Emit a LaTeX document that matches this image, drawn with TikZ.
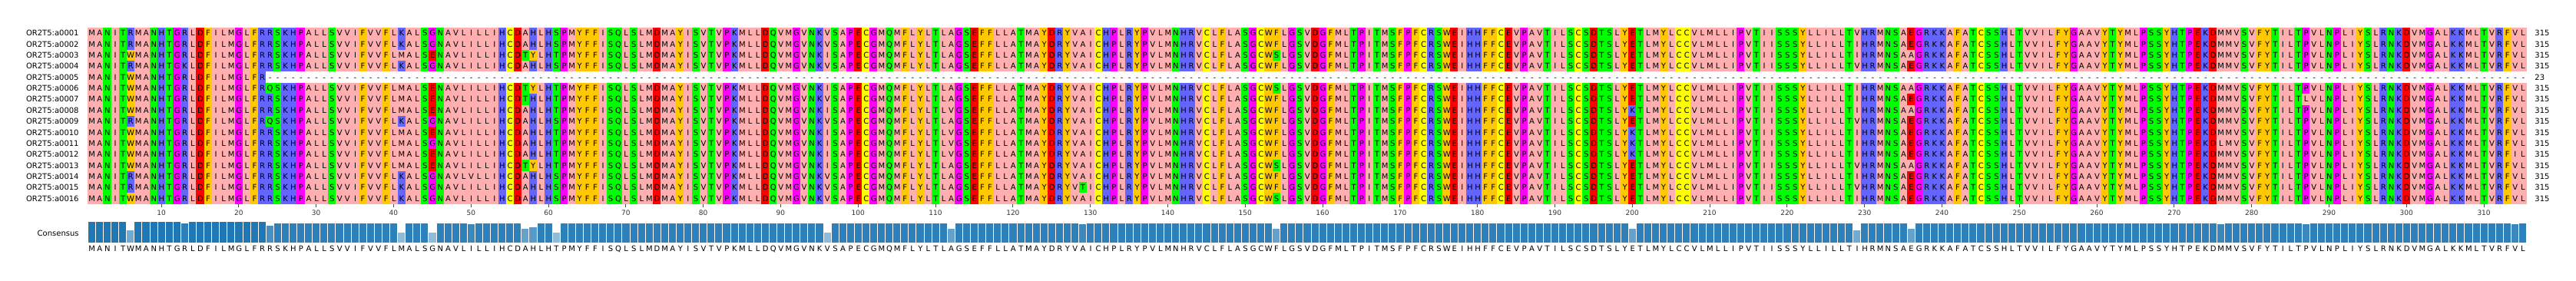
\documentclass[tikz,border=0pt]{standalone}
\usepackage{fontspec}
\setmainfont{DejaVu Sans}

\definecolor{zpA}{HTML}{FFAFAF}
\definecolor{zpI}{HTML}{FFAFAF}
\definecolor{zpL}{HTML}{FFAFAF}
\definecolor{zpM}{HTML}{FFAFAF}
\definecolor{zpV}{HTML}{FFAFAF}
\definecolor{zpF}{HTML}{FFC800}
\definecolor{zpW}{HTML}{FFC800}
\definecolor{zpY}{HTML}{FFC800}
\definecolor{zpK}{HTML}{6464FF}
\definecolor{zpR}{HTML}{6464FF}
\definecolor{zpH}{HTML}{6464FF}
\definecolor{zpD}{HTML}{FF0000}
\definecolor{zpE}{HTML}{FF0000}
\definecolor{zpS}{HTML}{00FF00}
\definecolor{zpT}{HTML}{00FF00}
\definecolor{zpN}{HTML}{00FF00}
\definecolor{zpQ}{HTML}{00FF00}
\definecolor{zpG}{HTML}{FF00FF}
\definecolor{zpP}{HTML}{FF00FF}
\definecolor{zpC}{HTML}{FFFF00}
\definecolor{consblue}{HTML}{1F77B4}

\tikzset{
  residue/.style={font=\fontsize{5}{6}\selectfont, inner sep=0pt, text height=3.65pt, text depth=0pt},
  seqrow/.style={residue, anchor=west},
  seqlabel/.style={residue, anchor=east},
  seqlength/.style={residue, anchor=west},
  ticklabel/.style={font=\fontsize{4.5}{5}\selectfont, text=black!80, inner sep=0pt},
  tickmark/.style={black!70, line width=0.5pt},
  consbar/.style={draw=white, line width=0.4pt},
}

\newcommand\consseq{MANITWMANHTGRLDFILMGLFRRSKHPALLSVVIFVVFLMALSGNAVLILLIHCDAHLHTPMYFFISQLSLMDMAYISVTVPKMLLDQVMGVNKVSAPECGMQMFLYLTLAGSEFFLLATMAYDRYVAICHPLRYPVLMNHRVCLFLASGCWFLGSVDGFMLTPITMSFPFCRSWEIHHFFCEVPAVTILSCSDTSLYETLMYLCCVLMLLIPVTIISSSYLLILLTIHRMNSAEGRKKAFATCSSHLTVVILFYGAAVYTYMLPSSYHTPEKDMMVSVFYTILTPVLNPLIYSLRNKDVMGALKKMLTVRFVL}
\newlength\reswidth
\setlength\reswidth{5.04pt}

\makeatletter
\newcount\rescol
\newcommand\mutlist{}
\newcommand\setmut[3]{%
  \@namedef{mut@#1@#2}{#3}%
  \g@addto@macro\mutlist{\mutcell{#1}{#2}{#3}}%
  \@ifundefined{nmut@#2}{\@namedef{nmut@#2}{1}}%
    {\expandafter\edef\csname nmut@#2\endcsname{\the\numexpr\@nameuse{nmut@#2}+1\relax}}}
\newcommand\mutcell[3]{\fill[fill=zp#3] (#2-1,#1-1) rectangle (#2,#1);}
% letters of one row, gaps after column #2
\newcommand\rowletters[2]{\rescol=0 \edef\currow{#1}\edef\lastcol{#2}%
  \expandafter\row@res\consseq\@nil}
\def\row@res#1{%
  \ifx#1\@nil\else
    \advance\rescol by 1
    \ifnum\rescol>\lastcol\relax
      \makebox[\reswidth]{-}%
    \else
      \@ifundefined{mut@\currow @\the\rescol}{\makebox[\reswidth]{#1}}%
        {\makebox[\reswidth]{\@nameuse{mut@\currow @\the\rescol}}}%
    \fi
    \expandafter\row@res
  \fi}
% background colour of each column
\newcommand\colfills{\rescol=0 \expandafter\col@fill\consseq\@nil}
\def\col@fill#1{%
  \ifx#1\@nil\else
    \advance\rescol by 1
    \ifnum\rescol>23
      \fill[fill=zp#1] (\the\rescol-1,0) rectangle (\the\rescol+0.03,4);
      \fill[fill=zp#1] (\the\rescol-1,5) rectangle (\the\rescol+0.03,16);
    \else
      \fill[fill=zp#1] (\the\rescol-1,0) rectangle (\the\rescol+0.03,16);
    \fi
    \expandafter\col@fill
  \fi}
% consensus identity bars
\newcommand\consbars{\rescol=0 \expandafter\cons@bar\consseq\@nil}
\def\cons@bar#1{%
  \ifx#1\@nil\else
    \advance\rescol by 1
    \@ifundefined{nmut@\the\rescol}{\def\nmut{0}}{\edef\nmut{\@nameuse{nmut@\the\rescol}}}%
    \ifnum\rescol>23 \def\ngap{1}\else\def\ngap{0}\fi
    \pgfmathsetmacro\ident{(16-\nmut-\ngap)/16}%
    \pgfmathsetmacro\identpct{100*\ident}%
    \fill[consbar, fill=consblue!\identpct!white] (\the\rescol-1,19.55) rectangle (\the\rescol,19.55-1.978*\ident);
    \expandafter\cons@bar
  \fi}
\makeatother

% row/column/residue where a sequence leaves the consensus
\setmut{1}{6}{R}\setmut{1}{41}{K}\setmut{1}{61}{S}\setmut{1}{229}{V}
\setmut{2}{6}{R}\setmut{2}{41}{K}\setmut{2}{61}{S}
\setmut{3}{45}{E}\setmut{3}{57}{T}\setmut{3}{58}{Y}\setmut{3}{96}{I}\setmut{3}{154}{S}\setmut{3}{236}{A}
\setmut{4}{6}{R}\setmut{4}{13}{K}\setmut{4}{41}{K}\setmut{4}{61}{S}\setmut{4}{229}{V}
\setmut{6}{24}{Q}\setmut{6}{45}{E}\setmut{6}{57}{T}\setmut{6}{58}{Y}\setmut{6}{96}{I}\setmut{6}{154}{S}\setmut{6}{236}{A}
\setmut{7}{45}{E}\setmut{7}{57}{T}\setmut{7}{287}{L}
\setmut{8}{45}{E}\setmut{8}{96}{I}\setmut{8}{112}{V}\setmut{8}{200}{K}\setmut{8}{236}{A}
\setmut{9}{6}{R}\setmut{9}{24}{Q}\setmut{9}{41}{K}\setmut{9}{61}{S}\setmut{9}{229}{V}
\setmut{10}{45}{E}\setmut{10}{96}{I}\setmut{10}{112}{V}\setmut{10}{200}{K}
\setmut{11}{96}{I}\setmut{11}{112}{V}\setmut{11}{200}{K}\setmut{11}{276}{L}
\setmut{12}{45}{E}\setmut{12}{96}{I}\setmut{12}{112}{V}\setmut{12}{200}{K}\setmut{12}{314}{I}
\setmut{13}{45}{E}\setmut{13}{57}{T}\setmut{13}{58}{Y}\setmut{13}{96}{I}\setmut{13}{154}{S}\setmut{13}{229}{V}\setmut{13}{236}{A}
\setmut{14}{6}{R}\setmut{14}{41}{K}\setmut{14}{50}{V}\setmut{14}{61}{S}
\setmut{15}{6}{R}\setmut{15}{41}{K}\setmut{15}{61}{S}\setmut{15}{129}{T}\setmut{15}{229}{V}
\setmut{16}{41}{K}\setmut{16}{61}{S}\setmut{16}{154}{S}

\begin{document}
\begin{tikzpicture}[x=5.04pt, y=-7.18pt]
        \useasboundingbox (-11.34,-2.507) rectangle (321.4,22.98);
        \colfills
        \mutlist
        \foreach \r in {1,...,16} {
            \node[seqrow] (row\r) at (0,\r-0.5) {\rowletters{\r}{\ifnum\r=5 23\else 315\fi}};
            \node[seqlabel] (name\r) at (-1.12,\r-0.5) {OR2T5:a00\ifnum\r<10 0\fi\r};
            \node[seqlength] (len\r) at (316.04,\r-0.5) {\ifnum\r=5 23\else 315\fi};
        }
        \foreach \t in {10,20,...,310} {
            \draw [tickmark] (\t-0.5,16.05) -- (\t-0.5,16.3);
            \node[ticklabel] (tick\t) at (\t-0.5,16.78) {\t};
        }
        \node[seqlabel] (conslabel) at (-1.12,18.66) {Consensus};
        \consbars
        \node[seqrow] (consrow) at (0,20.04) {\rowletters{0}{315}};
    \end{tikzpicture}
\end{document}
